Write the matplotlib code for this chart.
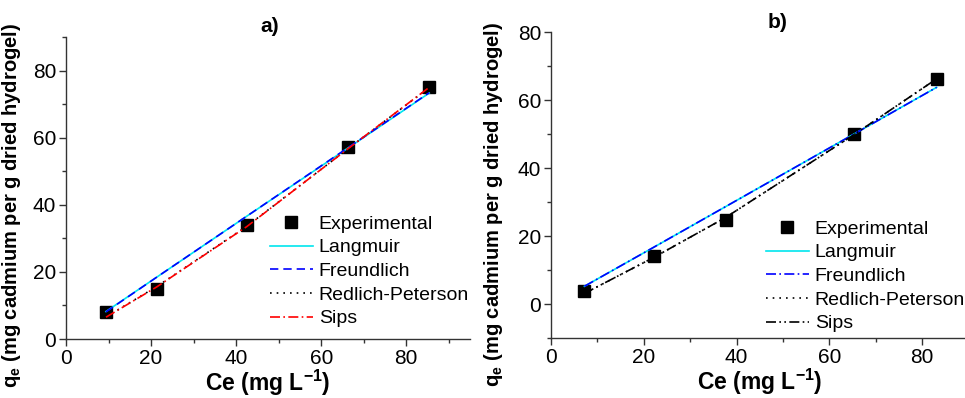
import numpy as np
import matplotlib.pyplot as plt
from matplotlib.ticker import MultipleLocator

plt.rcParams['font.family'] = ['Liberation Sans', 'DejaVu Sans']
plt.rcParams['mathtext.fontset'] = 'custom'
plt.rcParams['mathtext.rm'] = 'Liberation Sans'
plt.rcParams['mathtext.bf'] = 'Liberation Sans:bold'

# panel a) data
ce_a = [9.4, 21.3, 42.5, 66.4, 85.4]
qe_a = [8.1, 14.8, 34.0, 57.1, 75.1]
langmuir_a = [8.2, 18.4, 36.6, 57.0, 73.3]
freundlich_a = [8.1, 18.4, 36.6, 57.1, 73.4]
rp_a = [6.6, 15.6, 33.6, 56.8, 74.9]
sips_a = [6.5, 15.5, 33.5, 56.8, 75.0]

# panel b) data
ce_b = [7.2, 22.3, 37.6, 65.2, 83.1]
qe_b = [3.9, 14.2, 24.9, 50.0, 66.3]
langmuir_b = [5.3, 16.9, 28.7, 50.0, 63.8]
freundlich_b = [5.3, 16.9, 28.7, 50.0, 63.8]
rp_b = [3.2, 13.9, 25.5, 49.8, 66.3]
sips_b = [3.2, 13.9, 25.5, 49.8, 66.3]

labels = ['Experimental', 'Langmuir', 'Freundlich', 'Redlich-Peterson', 'Sips']

fig = plt.figure(figsize=(9.65, 3.98), dpi=100)
ax1 = fig.add_axes([0.0684, 0.1482, 0.4187, 0.7588])
ax2 = fig.add_axes([0.571, 0.15, 0.4328, 0.769])


def style_axis(ax, xlim, ylim, ylab_pos):
    ax.set_xlim(*xlim)
    ax.set_ylim(*ylim)
    ax.xaxis.set_major_locator(MultipleLocator(20))
    ax.xaxis.set_minor_locator(MultipleLocator(10))
    ax.yaxis.set_major_locator(MultipleLocator(20))
    ax.yaxis.set_minor_locator(MultipleLocator(10))
    for s in ['top', 'right']:
        ax.spines[s].set_visible(False)
    for s in ['left', 'bottom']:
        ax.spines[s].set_color('#333333')
        ax.spines[s].set_linewidth(1.0)
    ax.tick_params(which='major', direction='out', length=5, width=1,
                   color='#333333', labelsize=15, pad=2)
    ax.tick_params(which='minor', direction='out', length=3, width=1,
                   color='#333333')
    ax.set_xlabel(r'Ce (mg L$^{\mathbf{-1}}$)', fontsize=16.5, fontweight='bold',
                  labelpad=0)
    ax.set_ylabel(r'q$_\mathbf{e}$ (mg cadmium per g dried hydrogel)',
                  fontsize=14.5, fontweight='bold')
    ax.yaxis.set_label_coords(*ylab_pos)


leg_kw = dict(loc='upper left', frameon=False, fontsize=14, borderpad=0,
              handlelength=2.2, handletextpad=0.3, labelspacing=0.31,
              borderaxespad=0)

# a)
ax1.plot(ce_a, qe_a, 's', color='black', ms=8.5, label=labels[0], zorder=2)
ax1.plot(ce_a, langmuir_a, '-', color='#00e5ee', lw=1.2, label=labels[1], zorder=3)
ax1.plot(ce_a, freundlich_a, color='#0000ff', lw=1.2, ls=(0, (5, 3)), label=labels[2], zorder=4)
ax1.plot(ce_a, rp_a, color='black', lw=1.2, ls=(0, (1, 3)), label=labels[3], zorder=3)
ax1.plot(ce_a, sips_a, color='#ff0000', lw=1.2, ls=(0, (6, 2, 1, 2)), label=labels[4], zorder=4)
style_axis(ax1, (0, 95), (0, 90), (-0.106, 0.444))
ax1.legend(bbox_to_anchor=(0.505, 0.41), **leg_kw)

# b)
ax2.plot(ce_b, qe_b, 's', color='black', ms=8.5, label=labels[0], zorder=2)
ax2.plot(ce_b, langmuir_b, '-', color='#00e5ee', lw=1.2, label=labels[1], zorder=3)
ax2.plot(ce_b, freundlich_b, color='#0000ff', lw=1.2, ls=(0, (6, 2, 1, 2)), label=labels[2], zorder=4)
ax2.plot(ce_b, rp_b, color='black', lw=1.2, ls=(0, (1, 3)), label=labels[3], zorder=3)
ax2.plot(ce_b, sips_b, color='black', lw=1.2, ls=(0, (6, 2, 1, 2, 1, 2)), label=labels[4], zorder=4)
style_axis(ax2, (0, 90), (-10, 80), (-0.11, 0.436))
ax2.legend(bbox_to_anchor=(0.515, 0.386), **leg_kw)

fig.text(270 / 965, 1 - 27 / 398, 'a)', ha='center', va='center',
         fontsize=15, fontweight='bold')
fig.text(778 / 965, 1 - 22 / 398, 'b)', ha='center', va='center',
         fontsize=15, fontweight='bold')

fig.savefig('out.png', dpi=100)
